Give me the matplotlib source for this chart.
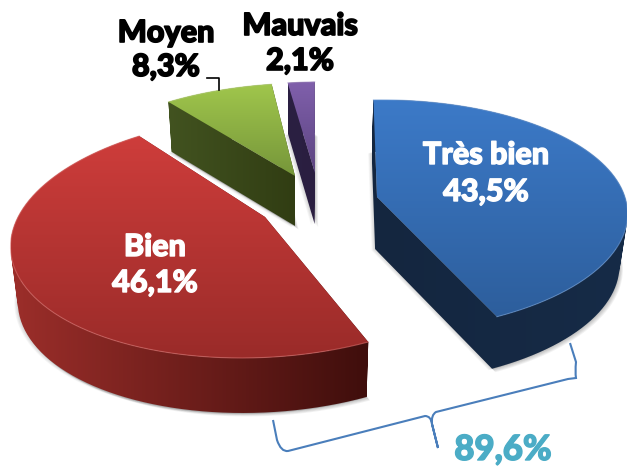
import numpy as np
import matplotlib
matplotlib.use('Agg')
import matplotlib.pyplot as plt
import matplotlib.patheffects as pe
from matplotlib.colors import LinearSegmentedColormap, to_rgb
from matplotlib.patches import Polygon, PathPatch
from matplotlib.path import Path

categories = ['Très bien', 'Bien', 'Moyen', 'Mauvais']
values = [43.5, 46.1, 8.3, 2.1]
value_labels = ['43,5%', '46,1%', '8,3%', '2,1%']
total_label = '89,6%'

START = 92.0
K = 0.163
VANISH_X = 300

# apex x, apex y, radius x, radius y, shear, depth
geom = [(377, 197, 248, 113, 0.04, 52),
        (265, 217, 247, 118, 0.168, 55),
        (295, 176, 240, 108, 0.12, 50),
        (315, 173, 238, 106, 0.075, 51)]
top_cols = [('#3C7AC8', '#2D5E9C'), ('#CE3D3B', '#9A2B29'),
            ('#A0C64C', '#76963A'), ('#8060AC', '#5C4480')]
side_cols = [('#14263F', '#162B47'), ('#9C2E2A', '#3F0E0C'),
             ('#425320', '#313D13'), ('#2B2042', '#2A1E40')]
label_pos = [(486, 155, 192), (155, 247, 283)]
outer_pos = [(166, 33, 67), (300, 26, 61)]


def project(g, r, theta):
    u = r*np.cos(np.radians(theta))
    v = r*np.sin(np.radians(theta))
    w = 1 + K*v
    x = g[2]*u/w
    y = g[3]*v/w
    return g[0] + x + g[4]*y, g[1] - y


def outline(g, t1, t2):
    # apex -> first radius -> arc -> back to the apex
    r = np.linspace(0, 1, 30)
    th = np.linspace(t1, t2, 80)
    xa, ya = project(g, r, np.full(30, t1))
    xb, yb = project(g, np.ones(80), th)
    xc, yc = project(g, r[::-1], np.full(30, t2))
    return np.r_[xa, xb, xc], np.r_[ya, yb, yc]


def lower(x, y, depth):
    return VANISH_X + (x - VANISH_X)*0.975, y + depth


def side_path(x, y, xl, yl):
    # all quads turned the same way so the union fills solid
    verts, codes = [], []
    for j in range(len(x) - 1):
        q = [(x[j], y[j]), (x[j+1], y[j+1]), (xl[j+1], yl[j+1]), (xl[j], yl[j])]
        qa = np.array(q)
        area = np.sum(qa[:, 0]*np.roll(qa[:, 1], -1) - np.roll(qa[:, 0], -1)*qa[:, 1])
        if area < 0:
            q = q[::-1]
        verts += q + [q[0]]
        codes += [Path.MOVETO, Path.LINETO, Path.LINETO, Path.LINETO, Path.CLOSEPOLY]
    return Path(verts, codes)


def mix(c1, c2, t):
    a, b = np.array(to_rgb(c1)), np.array(to_rgb(c2))
    return tuple(a + (b - a)*t)


fig = plt.figure(figsize=(6.27, 4.68), dpi=100)
ax = fig.add_axes([0, 0, 1, 1])
ax.axis('off')

# slice angles come from the values, clockwise
angles = [START]
for val in values:
    angles.append(angles[-1] - val*3.6)

# shadows first
for i in [3, 2, 1, 0]:
    g = geom[i]
    x, y = outline(g, angles[i], angles[i+1])
    xl, yl = lower(x, y, g[5])
    for off in [1, 2, 3, 4, 5]:
        ax.fill(xl + off*0.7, yl + off*0.7, color='k', alpha=0.05, lw=0)
        ax.fill(xl - off*0.7, yl + off*0.3, color='k', alpha=0.03, lw=0)

for i in [3, 2, 1, 0]:
    g = geom[i]
    z = 2 + 2*(3 - i)
    x, y = outline(g, angles[i], angles[i+1])
    xl, yl = lower(x, y, g[5])
    x0, x1 = min(x.min(), xl.min()), max(x.max(), xl.max())
    # side faces, left to right shade
    cmap = LinearSegmentedColormap.from_list('s', side_cols[i])
    grad = np.linspace(0, 1, 256).reshape(1, -1)
    im = ax.imshow(grad, cmap=cmap, aspect='auto', origin='upper',
                   extent=[x0, x1, yl.max(), y.min()], zorder=z)
    patch = PathPatch(side_path(x, y, xl, yl), transform=ax.transData, fc='none', ec='none')
    ax.add_patch(patch)
    im.set_clip_path(patch)
    # top face
    cmap = LinearSegmentedColormap.from_list('t', top_cols[i])
    grad = np.linspace(0, 1, 256).reshape(-1, 1)
    im = ax.imshow(grad, cmap=cmap, aspect='auto', origin='upper',
                   extent=[x.min(), x.max(), y.max(), y.min()], zorder=z + 1)
    poly = Polygon(np.c_[x, y], closed=True, transform=ax.transData, fc='none', ec='none')
    ax.add_patch(poly)
    im.set_clip_path(poly)
    # bevel on the rim
    xr, yr = project(g, np.ones(80), np.linspace(angles[i], angles[i+1], 80))
    ax.plot(xr, yr, color=mix(top_cols[i][0], '#FFFFFF', 0.25), lw=0.8, alpha=0.6, zorder=z + 1)

ax.set_xlim(0, 627)
ax.set_ylim(468, 0)

# leader line for Moyen
ax.plot([207, 219, 219], [78, 78, 90], color='k', lw=1.2, zorder=12)

# bracket under the two big slices
verts = [(570, 343), (576, 362), (575, 372), (576, 378), (568, 379),
         (436, 412), (431, 415), (432, 424), (438, 448),
         (432, 424), (431, 416), (425, 416),
         (288, 451), (281, 452), (277, 440), (273, 420)]
codes = [Path.MOVETO, Path.LINETO, Path.CURVE3, Path.CURVE3, Path.LINETO,
         Path.LINETO, Path.CURVE3, Path.CURVE3, Path.LINETO,
         Path.LINETO, Path.CURVE3, Path.CURVE3,
         Path.LINETO, Path.CURVE3, Path.CURVE3, Path.LINETO]
ax.add_patch(PathPatch(Path(verts, codes), fc='none', ec='#4A7EBB', lw=1.5, zorder=12))

font = dict(family='Lato', weight='black', fontsize=22, ha='center', va='center', zorder=13)
white = [pe.withStroke(linewidth=1.0, foreground='white')]
black = [pe.withStroke(linewidth=1.2, foreground='black')]
for i, (tx, y1, y2) in enumerate(label_pos):
    ax.text(tx, y1, categories[i], color='white', path_effects=white, **font)
    ax.text(tx, y2, value_labels[i], color='white', path_effects=white, **font)
for i, (tx, y1, y2) in enumerate(outer_pos):
    ax.text(tx, y1, categories[i+2], color='black', path_effects=black, **font)
    ax.text(tx, y2, value_labels[i+2], color='black', path_effects=black, **font)
ax.text(503, 450, total_label, color='#4BACC6', family='Lato', weight='black', fontsize=25,
        ha='center', va='center', zorder=13, path_effects=[pe.withStroke(linewidth=1.0, foreground='#4BACC6')])

fig.savefig('out.png', dpi=100)
